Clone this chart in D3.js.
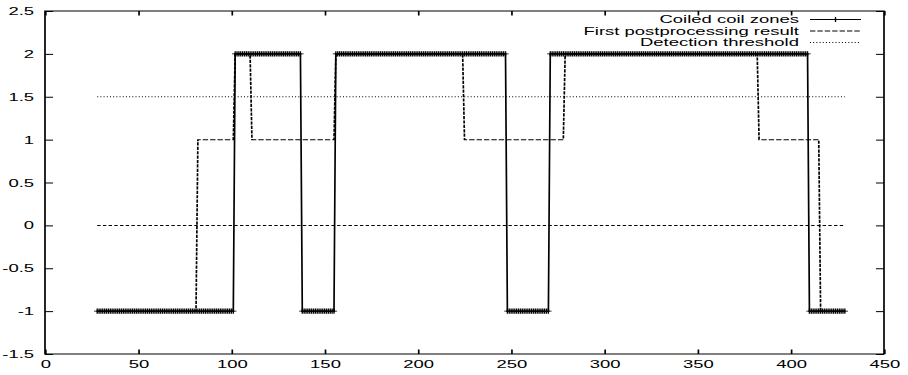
<!DOCTYPE html>
<html>
<head>
<meta charset="utf-8">
<script src="https://cdn.jsdelivr.net/npm/d3@7"></script>
<style>
  body { margin: 0; background: #fff; }
  svg { display: block; font-family: "Liberation Sans", Arial, sans-serif; }
</style>
</head>
<body>
<div id="chart"></div>
<script>
// donnees (segments constants, un point par residu)
const residueFirst = 28;
const residueLast = 429;
const coilRunStarts = [28, 102, 138, 156, 248, 271, 410];
const coilRunValues = [-1, 2, -1, 2, -1, 2, -1];
const postRunStarts = [28, 82, 102, 111, 156, 225, 279, 383, 416];
const postRunValues = [-1, 1, 2, 1, 2, 1, 2, 1, -1];
const thresholdLevel = 1.5;
const zeroLevel = 0;

const xTicks = [0, 50, 100, 150, 200, 250, 300, 350, 400, 450];
const yTicks = [-1.5, -1, -0.5, 0, 0.5, 1, 1.5, 2, 2.5];
const legendLabels = ["Coiled coil zones", "First postprocessing result", "Detection threshold"];

const width = 908, height = 375;
const SX = 1.68; // la figure d'origine est etiree horizontalement
const plotLeft = 45, plotRight = 884, plotTop = 11, plotBottom = 354;

// expansion des segments en points (un par residu)
function expand(starts, values) {
    const pts = [];
    for (let r = residueFirst; r <= residueLast; r++) {
        let v = values[0];
        starts.forEach((s, i) => { if (r >= s) v = values[i]; });
        pts.push([r, v]);
    }
    return pts;
}
const coilData = expand(coilRunStarts, coilRunValues);
const postData = expand(postRunStarts, postRunValues);

const svg = d3.select("#chart").append("svg")
    .attr("width", width)
    .attr("height", height);

const g = svg.append("g").attr("transform", `scale(${SX},1)`);

const x = d3.scaleLinear().domain([0, 450]).range([plotLeft / SX, plotRight / SX]);
const y = d3.scaleLinear().domain([-1.5, 2.5]).range([plotBottom, plotTop]);

const fontSize = 11;

// axes (ticks vers l'interieur, miroir en haut et a droite)
g.append("g").attr("transform", `translate(0,${plotBottom})`)
    .call(d3.axisBottom(x).tickValues(xTicks).tickSize(-4.5).tickPadding(6.5));
g.append("g").attr("transform", `translate(${plotLeft / SX},0)`)
    .call(d3.axisLeft(y).tickValues(yTicks).tickSize(-4.8).tickPadding(6.5).tickFormat(d => String(d)));
g.append("g").attr("transform", `translate(0,${plotTop})`)
    .call(d3.axisTop(x).tickValues(xTicks).tickSize(-4.5).tickFormat(""));
g.append("g").attr("transform", `translate(${plotRight / SX},0)`)
    .call(d3.axisRight(y).tickValues(yTicks).tickSize(-4.8).tickFormat(""));

g.selectAll(".domain").remove();
g.selectAll(".tick line").attr("stroke", "#000");
g.selectAll(".tick text")
    .attr("fill", "#000")
    .attr("font-size", fontSize)
    .attr("font-family", "'Liberation Sans', Arial, sans-serif");

g.append("rect")
    .attr("x", plotLeft / SX).attr("y", plotTop)
    .attr("width", (plotRight - plotLeft) / SX).attr("height", plotBottom - plotTop)
    .attr("fill", "none").attr("stroke", "#000").attr("stroke-width", 1);

const line = d3.line().x(d => x(d[0])).y(d => y(d[1]));

// ligne a 0 (tirets courts)
g.append("path")
    .attr("d", line([[residueFirst, zeroLevel], [residueLast, zeroLevel]]))
    .attr("fill", "none").attr("stroke", "#000").attr("stroke-width", 1)
    .attr("stroke-dasharray", "2,1.4");

// seuil de detection (pointilles)
g.append("path")
    .attr("d", line([[residueFirst, thresholdLevel], [residueLast, thresholdLevel]]))
    .attr("fill", "none").attr("stroke", "#000").attr("stroke-width", 1)
    .attr("stroke-dasharray", "0.6,1.3");

// premier post-traitement (tirets)
g.append("path")
    .attr("d", line(postData))
    .attr("fill", "none").attr("stroke", "#000").attr("stroke-width", 1)
    .attr("stroke-dasharray", "3.2,1.2");

// zones coiled coil (trait plein + croix)
g.append("path")
    .attr("d", line(coilData))
    .attr("fill", "none").attr("stroke", "#000").attr("stroke-width", 1);

const plus = "M-1.9,0H1.9M0,-2.6V2.6";
g.append("g").selectAll("path")
    .data(coilData)
    .join("path")
    .attr("transform", d => `translate(${x(d[0])},${y(d[1])})`)
    .attr("d", plus)
    .attr("fill", "none").attr("stroke", "#000").attr("stroke-width", 0.8);

// legende
const legendRight = 799 / SX;
const sampleX0 = 810 / SX, sampleX1 = 861 / SX;
const rowY = [19.5, 31, 42.5];
const legend = g.append("g");
legendLabels.forEach((lab, i) => {
    legend.append("text")
        .attr("x", legendRight).attr("y", rowY[i])
        .attr("dy", "0.36em")
        .attr("text-anchor", "end")
        .attr("font-size", fontSize)
        .text(lab);
});
legend.append("line")
    .attr("x1", sampleX0).attr("x2", sampleX1).attr("y1", rowY[0]).attr("y2", rowY[0])
    .attr("stroke", "#000");
legend.append("path")
    .attr("transform", `translate(${(sampleX0 + sampleX1) / 2},${rowY[0]})`)
    .attr("d", plus).attr("fill", "none").attr("stroke", "#000").attr("stroke-width", 0.8);
legend.append("line")
    .attr("x1", sampleX0).attr("x2", sampleX1).attr("y1", rowY[1]).attr("y2", rowY[1])
    .attr("stroke", "#000").attr("stroke-dasharray", "3.2,1.2");
legend.append("line")
    .attr("x1", sampleX0).attr("x2", sampleX1).attr("y1", rowY[2]).attr("y2", rowY[2])
    .attr("stroke", "#000").attr("stroke-dasharray", "0.6,1.3");
</script>
</body>
</html>
